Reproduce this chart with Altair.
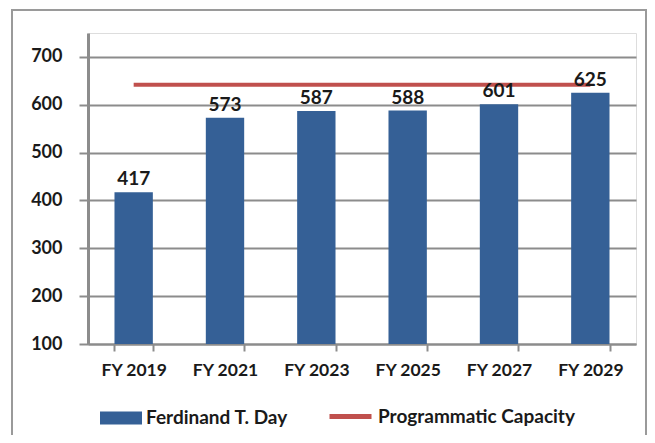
import altair as alt
import pandas as pd

years = ["FY 2019", "FY 2021", "FY 2023", "FY 2025", "FY 2027", "FY 2029"]
day_values = [417, 573, 587, 588, 601, 625]
capacity_values = [642, 642, 642, 642, 642, 642]
bar_name = "Ferdinand T. Day"
line_name = "Programmatic Capacity"

df = pd.DataFrame({
    "year": years,
    "value": day_values,
    "capacity": capacity_values,
    "bar_series": [bar_name] * len(years),
    "line_series": [line_name] * len(years),
})

FONT = "Lato"
GRAY = "#8c8c8c"
TXT = "#1a1a1a"

x_enc = alt.X(
    "year:N", sort=years, title=None,
    scale=alt.Scale(paddingInner=0.58, paddingOuter=0.29),
    axis=alt.Axis(labelAngle=0, tickBand="extent", domainColor=GRAY, domainWidth=2,
                  tickColor=GRAY, tickWidth=2, tickSize=7, labelFontSize=17.5,
                  labelFontWeight="bold", labelFont=FONT, labelColor=TXT,
                  labelPadding=10, grid=False),
)
y_scale = alt.Scale(domain=[100, 750], nice=False, zero=False)
y_axis = alt.Axis(values=[100, 200, 300, 400, 500, 600, 700], title=None,
                  domainColor=GRAY, domainWidth=3, tickColor=GRAY, tickWidth=2,
                  tickSize=9, gridColor=GRAY, gridWidth=2, labelFontSize=18,
                  labelFontWeight="bold", labelFont=FONT, labelColor=TXT,
                  labelPadding=17)

base = alt.Chart(df)

bars = base.mark_bar(color="#356096").encode(
    x=x_enc,
    y=alt.Y("value:Q", scale=y_scale, axis=y_axis),
    y2=alt.datum(100),
    color=alt.Color("bar_series:N", scale=alt.Scale(range=["#356096"]),
                    legend=alt.Legend(title=None, orient="none", legendX=12, legendY=364,
                                      symbolType="M-1,-0.31H1V0.31H-1Z", symbolSize=1764,
                                      symbolStrokeWidth=0, labelFontSize=19,
                                      labelFontWeight="bold", labelFont=FONT,
                                      labelColor=TXT, labelOffset=4, labelLimit=0)),
)

line = base.mark_line(strokeWidth=4).encode(
    x=alt.X("year:N", sort=years),
    y=alt.Y("capacity:Q", scale=y_scale),
    color=alt.Color("line_series:N", scale=alt.Scale(range=["#c0504d"]),
                    legend=alt.Legend(title=None, orient="none", legendX=239, legendY=360,
                                      symbolType="M-1,0H1", symbolSize=1764,
                                      symbolStrokeWidth=5, labelFontSize=19,
                                      labelFontWeight="bold", labelFont=FONT,
                                      labelColor=TXT, labelOffset=4, labelLimit=0)),
)

labels = base.mark_text(dy=-7, baseline="alphabetic", fontSize=19, fontWeight="bold",
                        font=FONT, color=TXT).encode(
    x=alt.X("year:N", sort=years),
    y=alt.Y("value:Q", scale=y_scale),
    text=alt.Text("value:Q"),
)

frame = alt.Chart(pd.DataFrame({"k": [0]})).mark_rect(
    fill=None, stroke="#9a9a9a", strokeWidth=2
).encode(
    x=alt.value(-76), x2=alt.value(558), y=alt.value(-23), y2=alt.value(430),
)

chart = alt.layer(frame, bars, line, labels).resolve_scale(color="independent").properties(
    width=548, height=311,
    autosize=alt.AutoSizeParams(type="none"),
    padding={"left": 80, "top": 25, "right": 11, "bottom": 91},
).configure_view(fill="#eeebe0", stroke=None).configure(background="white")

chart.save("out.html", embed_options={"renderer": "svg", "actions": False})
